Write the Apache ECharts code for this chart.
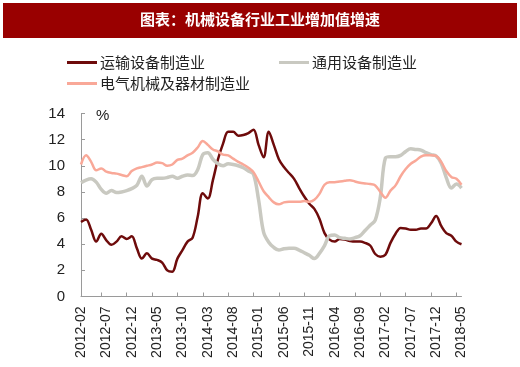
<!DOCTYPE html>
<html>
<head>
<meta charset="utf-8">
<script src="https://cdn.jsdelivr.net/npm/echarts@6/dist/echarts.min.js"></script>
<style>
html,body{margin:0;padding:0;background:#fff;}
#c{width:520px;height:367px;}
</style>
</head>
<body>
<div id="c"></div>
<script>
var titleText = '图表：机械设备行业工业增加值增速';
var seriesNames = ['运输设备制造业', '通用设备制造业', '电气机械及器材制造业'];
var categories = [
'2012-02','2012-03','2012-04','2012-05','2012-06','2012-07','2012-08','2012-09','2012-10','2012-11','2012-12',
'2013-01','2013-02','2013-03','2013-04','2013-05','2013-06','2013-07','2013-08','2013-09','2013-10','2013-11','2013-12',
'2014-01','2014-02','2014-03','2014-04','2014-05','2014-06','2014-07','2014-08','2014-09','2014-10','2014-11','2014-12',
'2015-01','2015-02','2015-03','2015-04','2015-05','2015-06','2015-07','2015-08','2015-09','2015-10','2015-11','2015-12',
'2016-01','2016-02','2016-03','2016-04','2016-05','2016-06','2016-07','2016-08','2016-09','2016-10','2016-11','2016-12',
'2017-01','2017-02','2017-03','2017-04','2017-05','2017-06','2017-07','2017-08','2017-09','2017-10','2017-11','2017-12',
'2018-01','2018-02','2018-03','2018-04','2018-05'
];
var transport = [
5.7,5.9,5.1,4.2,4.8,4.3,3.95,4.2,4.6,4.4,4.6,3.7,2.9,3.3,2.9,2.8,2.6,2.0,1.9,2.9,
3.55,4.2,4.5,6.1,7.9,7.5,8.9,10.5,11.7,12.6,12.6,12.3,12.35,12.5,12.75,11.6,10.65,12.6,11.6,10.5,
9.9,9.45,9.0,8.3,7.65,7.1,6.7,5.95,4.85,4.35,4.2,4.4,4.35,4.25,4.2,4.2,4.1,3.9,3.25,3.05,
3.2,4.1,4.8,5.25,5.2,5.1,5.1,5.2,5.2,5.6,6.15,5.4,4.85,4.65,4.2,4.0
];
var general = [
8.7,8.9,9.0,8.75,8.2,7.9,8.1,7.95,8.0,8.1,8.25,8.5,9.2,8.45,8.95,9.05,9.05,9.1,9.2,9.05,
9.2,9.3,9.25,9.7,10.85,11.0,10.5,10.15,10.0,10.15,10.1,10.0,9.85,9.6,9.35,7.4,4.9,4.15,3.75,3.55,
3.65,3.7,3.7,3.55,3.35,3.15,2.9,3.3,3.9,4.65,4.7,4.5,4.45,4.4,4.5,4.65,5.05,5.45,5.85,7.6,
10.6,10.7,10.7,10.8,11.1,11.3,11.25,11.2,11.0,10.85,10.75,10.2,9.1,8.3,8.6,8.3
];
var electrical = [
10.1,10.8,10.3,9.65,9.8,9.55,9.45,9.4,9.3,9.2,9.6,9.8,9.9,10.0,10.1,10.25,10.2,10.0,10.1,10.45,
10.55,10.8,11.0,11.4,11.9,11.6,11.25,11.1,10.85,10.8,10.55,10.3,10.1,9.85,9.5,8.8,8.05,7.6,7.2,7.05,
7.2,7.25,7.25,7.25,7.3,7.25,7.4,7.85,8.55,8.75,8.75,8.8,8.85,8.9,8.8,8.7,8.65,8.6,8.5,8.0,
7.55,8.1,8.5,9.2,9.75,10.15,10.4,10.7,10.8,10.8,10.75,10.3,9.6,9.15,9.0,8.55
];
var yMin = 0, yMax = 14, yStep = 2;
var colors = ['#6e0b0b', '#c9c9c1', '#f9a898'];

var chart = echarts.init(document.getElementById('c'), null, {renderer: 'canvas'});
var numFont = '"Liberation Sans", Arial, sans-serif';
var cjkFont = '"Noto Sans CJK SC", sans-serif';
chart.setOption({
  animation: false,
  backgroundColor: '#ffffff',
  graphic: [
    {type: 'rect', left: 3, top: 3, shape: {width: 514, height: 35}, style: {fill: '#990000'}, silent: true},
    {type: 'text', left: 'center', top: 12, style: {text: titleText, fill: '#ffffff', font: 'bold 15px ' + cjkFont}},
    {type: 'text', left: 96, top: 108, style: {text: '%', fill: '#222222', font: '15px ' + numFont}}
  ],
  legend: [
    {
      data: [seriesNames[0], seriesNames[1]],
      left: 62, top: 50, itemWidth: 30, itemHeight: 3, itemGap: 74, icon: 'rect',
      textStyle: {fontFamily: cjkFont, fontSize: 15, color: '#222222', padding: [0,0,0,-2]}
    },
    {
      data: [seriesNames[2]],
      left: 62, top: 71, itemWidth: 30, itemHeight: 3, icon: 'rect',
      textStyle: {fontFamily: cjkFont, fontSize: 15, color: '#222222', padding: [0,0,0,-2]}
    }
  ],
  grid: {left: 81, right: 58.5, top: 113.5, bottom: 70.5, containLabel: false},
  xAxis: {
    type: 'category',
    data: categories,
    boundaryGap: false,
    axisLine: {lineStyle: {color: '#9a9a9a', width: 1}},
    axisTick: {show: true, inside: true, length: 4, lineStyle: {color: '#9a9a9a'},
      interval: function (i) { return i % 5 === 4; }},
    axisLabel: {interval: 4, rotate: 90, margin: 10, fontFamily: numFont, fontSize: 14, color: '#222222'},
    splitLine: {show: false}
  },
  yAxis: {
    type: 'value',
    min: yMin, max: yMax, interval: yStep,
    axisLine: {show: true, lineStyle: {color: '#9a9a9a', width: 1}},
    axisTick: {show: true, inside: true, length: 4, lineStyle: {color: '#9a9a9a'}},
    axisLabel: {margin: 16, fontFamily: numFont, fontSize: 15, color: '#222222'},
    splitLine: {show: false}
  },
  series: [
    {name: seriesNames[0], type: 'line', data: transport, smooth: 0.35, symbol: 'none',
      lineStyle: {color: colors[0], width: 2.5}, itemStyle: {color: colors[0]}},
    {name: seriesNames[1], type: 'line', data: general, smooth: 0.35, symbol: 'none',
      lineStyle: {color: colors[1], width: 3.5}, itemStyle: {color: colors[1]}},
    {name: seriesNames[2], type: 'line', data: electrical, smooth: 0.35, symbol: 'none',
      lineStyle: {color: colors[2], width: 2.5}, itemStyle: {color: colors[2]}}
  ]
});
</script>
</body>
</html>
